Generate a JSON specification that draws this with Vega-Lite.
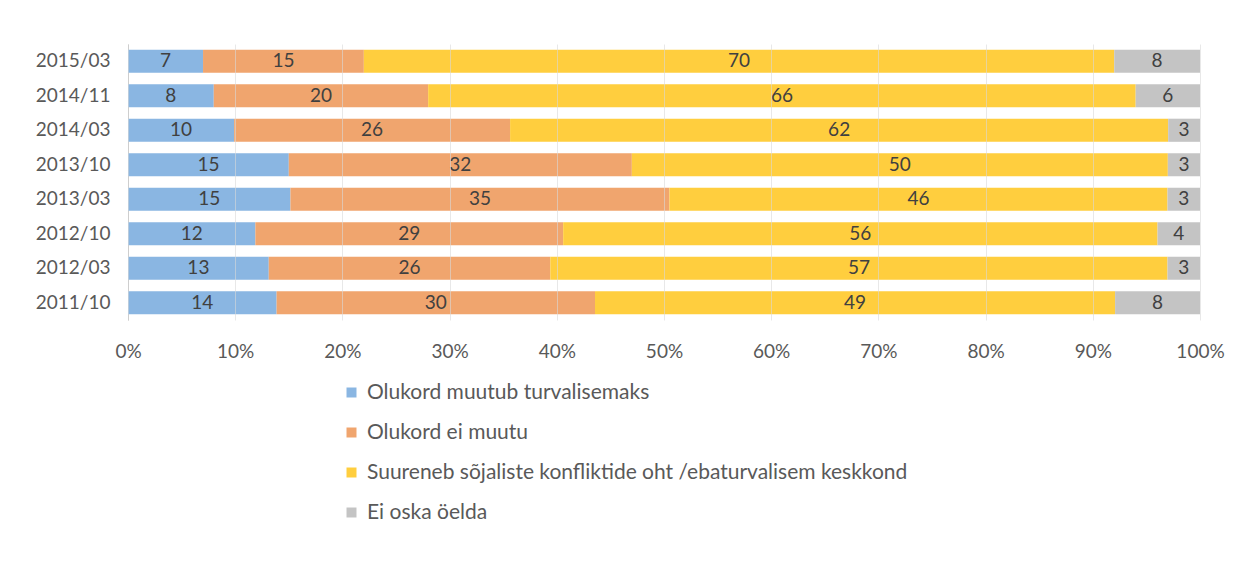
{
  "$schema": "https://vega.github.io/schema/vega-lite/v6.json",
  "autosize": {"type": "none"},
  "width": 1072,
  "height": 276,
  "padding": {"left": 128, "top": 44, "right": 45, "bottom": 247},
  "background": "white",
  "config": {
    "font": "Lato",
    "view": {"stroke": null},
    "axis": {"labelFont": "Lato", "labelColor": "#595959", "labelFontSize": 19}
  },
  "data": {
    "values": [
      {"period": "2015/03", "series": "Olukord muutub turvalisemaks", "order": 1, "value": 7},
      {"period": "2015/03", "series": "Olukord ei muutu", "order": 2, "value": 15},
      {"period": "2015/03", "series": "Suureneb sõjaliste konfliktide oht /ebaturvalisem keskkond", "order": 3, "value": 70},
      {"period": "2015/03", "series": "Ei oska öelda", "order": 4, "value": 8},
      {"period": "2014/11", "series": "Olukord muutub turvalisemaks", "order": 1, "value": 8},
      {"period": "2014/11", "series": "Olukord ei muutu", "order": 2, "value": 20},
      {"period": "2014/11", "series": "Suureneb sõjaliste konfliktide oht /ebaturvalisem keskkond", "order": 3, "value": 66},
      {"period": "2014/11", "series": "Ei oska öelda", "order": 4, "value": 6},
      {"period": "2014/03", "series": "Olukord muutub turvalisemaks", "order": 1, "value": 10},
      {"period": "2014/03", "series": "Olukord ei muutu", "order": 2, "value": 26},
      {"period": "2014/03", "series": "Suureneb sõjaliste konfliktide oht /ebaturvalisem keskkond", "order": 3, "value": 62},
      {"period": "2014/03", "series": "Ei oska öelda", "order": 4, "value": 3},
      {"period": "2013/10", "series": "Olukord muutub turvalisemaks", "order": 1, "value": 15},
      {"period": "2013/10", "series": "Olukord ei muutu", "order": 2, "value": 32},
      {"period": "2013/10", "series": "Suureneb sõjaliste konfliktide oht /ebaturvalisem keskkond", "order": 3, "value": 50},
      {"period": "2013/10", "series": "Ei oska öelda", "order": 4, "value": 3},
      {"period": "2013/03", "series": "Olukord muutub turvalisemaks", "order": 1, "value": 15},
      {"period": "2013/03", "series": "Olukord ei muutu", "order": 2, "value": 35},
      {"period": "2013/03", "series": "Suureneb sõjaliste konfliktide oht /ebaturvalisem keskkond", "order": 3, "value": 46},
      {"period": "2013/03", "series": "Ei oska öelda", "order": 4, "value": 3},
      {"period": "2012/10", "series": "Olukord muutub turvalisemaks", "order": 1, "value": 12},
      {"period": "2012/10", "series": "Olukord ei muutu", "order": 2, "value": 29},
      {"period": "2012/10", "series": "Suureneb sõjaliste konfliktide oht /ebaturvalisem keskkond", "order": 3, "value": 56},
      {"period": "2012/10", "series": "Ei oska öelda", "order": 4, "value": 4},
      {"period": "2012/03", "series": "Olukord muutub turvalisemaks", "order": 1, "value": 13},
      {"period": "2012/03", "series": "Olukord ei muutu", "order": 2, "value": 26},
      {"period": "2012/03", "series": "Suureneb sõjaliste konfliktide oht /ebaturvalisem keskkond", "order": 3, "value": 57},
      {"period": "2012/03", "series": "Ei oska öelda", "order": 4, "value": 3},
      {"period": "2011/10", "series": "Olukord muutub turvalisemaks", "order": 1, "value": 14},
      {"period": "2011/10", "series": "Olukord ei muutu", "order": 2, "value": 30},
      {"period": "2011/10", "series": "Suureneb sõjaliste konfliktide oht /ebaturvalisem keskkond", "order": 3, "value": 49},
      {"period": "2011/10", "series": "Ei oska öelda", "order": 4, "value": 8}
    ]
  },
  "transform": [
    {"stack": "value", "groupby": ["period"], "sort": [{"field": "order"}], "offset": "normalize", "as": ["x0", "x1"]},
    {"calculate": "(datum.x0 + datum.x1) / 2", "as": "xmid"}
  ],
  "encoding": {
    "y": {
      "field": "period", "type": "nominal",
      "sort": ["2015/03", "2014/11", "2014/03", "2013/10", "2013/03", "2012/10", "2012/03", "2011/10"],
      "scale": {"paddingInner": 0.33, "paddingOuter": 0.165},
      "axis": {"title": null, "ticks": false, "domain": true, "domainColor": "#bfbfbf", "labelPadding": 18, "grid": false}
    }
  },
  "layer": [
    {
      "mark": {"type": "bar"},
      "encoding": {
        "x": {
          "field": "x0", "type": "quantitative",
          "scale": {"domain": [0, 1]},
          "axis": {"title": null, "format": ".0%", "values": [0, 0.1, 0.2, 0.3, 0.4, 0.5, 0.6, 0.7, 0.8, 0.9, 1], "labelOverlap": false, "labelFlush": false, "domain": false, "ticks": false, "grid": true, "gridColor": "#d9d9d9", "gridOpacity": 0.6, "labelPadding": 22, "zindex": 1}
        },
        "x2": {"field": "x1"},
        "color": {
          "field": "series", "type": "nominal",
          "scale": {
            "domain": ["Olukord muutub turvalisemaks", "Olukord ei muutu", "Suureneb sõjaliste konfliktide oht /ebaturvalisem keskkond", "Ei oska öelda"],
            "range": ["#8AB6E2", "#F0A56E", "#FFCE3E", "#C4C4C4"]
          },
          "legend": {
            "title": null, "orient": "none", "legendX": 213, "legendY": 338,
            "direction": "vertical", "symbolType": "square", "symbolSize": 100, "symbolStrokeWidth": 0,
            "labelFontSize": 21, "labelColor": "#595959", "labelFont": "Lato", "rowPadding": 18, "labelLimit": 800, "labelOffset": 5
          }
        }
      }
    },
    {
      "mark": {"type": "text", "fontSize": 19, "color": "#404040", "font": "Lato"},
      "encoding": {
        "x": {"field": "xmid", "type": "quantitative"},
        "text": {"field": "value", "type": "quantitative"}
      }
    }
  ]
}
